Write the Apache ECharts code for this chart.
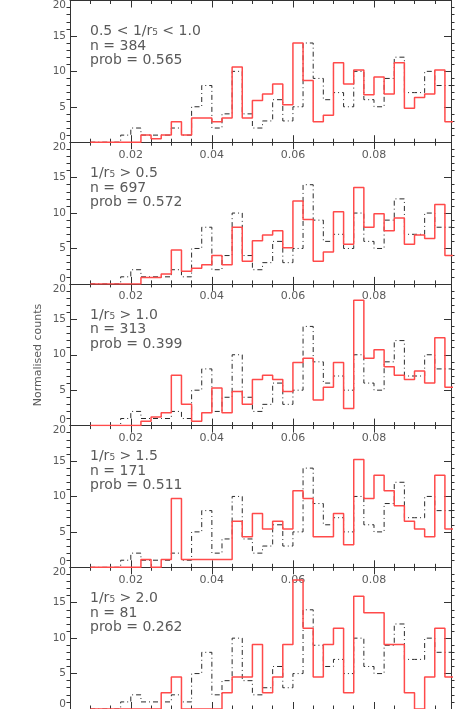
<!DOCTYPE html>
<html>
<head>
<meta charset="utf-8">
<script src="https://cdn.jsdelivr.net/npm/echarts@6/dist/echarts.min.js"></script>
<style>
html,body{margin:0;padding:0;background:#fff;}
#chart{width:472px;height:709px;}
</style>
</head>
<body>
<div id="chart"></div>
<script>
// Left edges of the histogram bins (bin width 0.0025)
const binStart = [0.0100, 0.0125, 0.0150, 0.0175, 0.0200, 0.0225, 0.0250, 0.0275, 0.0300, 0.0325,
                  0.0350, 0.0375, 0.0400, 0.0425, 0.0450, 0.0475, 0.0500, 0.0525, 0.0550, 0.0575,
                  0.0600, 0.0625, 0.0650, 0.0675, 0.0700, 0.0725, 0.0750, 0.0775, 0.0800, 0.0825,
                  0.0850, 0.0875, 0.0900, 0.0925, 0.0950, 0.0975];
const binEnd = 0.1;

// Comparison (black dash-dot) histogram, same in every panel
const refCounts = [0, 0, 0, 1, 2, 1, 1, 1, 2, 1,
                   5, 8, 2, 4, 10, 4, 2, 3, 6, 3,
                   5, 14, 9, 6, 7, 5, 10, 6, 5, 9,
                   12, 7, 7, 10, 8, 8];

// Red histograms, one per panel
const counts1 = [0, 0, 0, 0, 0, 1.0, 0.5, 1.0, 2.9, 1.0,
                 3.4, 3.4, 2.9, 3.4, 10.6, 3.4, 5.9, 6.8, 8.2, 5.3,
                 14.0, 8.7, 2.9, 3.8, 11.2, 8.2, 10.2, 6.7, 9.2, 6.8,
                 11.2, 4.8, 6.3, 6.8, 10.2, 2.9];
const counts2 = [0, 0, 0, 0, 0, 0.9, 0.9, 1.4, 4.8, 1.8,
                 2.2, 2.7, 4.0, 2.7, 8.0, 3.2, 6.1, 6.9, 7.5, 5.1,
                 11.7, 9.1, 3.2, 4.5, 10.2, 5.6, 13.6, 8.0, 9.9, 7.5,
                 9.3, 5.6, 6.9, 6.4, 11.2, 4.0];
const counts3 = [0, 0, 0, 0, 0, 0.6, 1.2, 1.8, 7.1, 3.0,
                 0.6, 1.8, 5.3, 1.8, 4.8, 3.0, 6.5, 7.1, 6.5, 4.8,
                 8.9, 9.5, 3.6, 5.4, 8.9, 2.4, 17.7, 9.5, 10.7, 8.3,
                 7.1, 6.5, 7.7, 6.0, 12.4, 5.4];
const counts4 = [0, 0, 0, 0, 0, 1.1, 0, 1.1, 9.7, 1.1,
                 1.1, 1.1, 1.1, 1.1, 6.5, 4.3, 7.6, 5.4, 6.5, 5.4,
                 10.8, 9.7, 4.3, 4.3, 7.6, 3.2, 15.2, 9.7, 13.0, 10.8,
                 8.7, 6.5, 5.4, 4.3, 13.0, 5.4];
const counts5 = [0, 0, 0, 0, 0, 0, 0, 2.3, 4.5, 0,
                 0, 0, 0, 2.3, 4.5, 4.5, 9.1, 2.3, 4.5, 9.1,
                 18.2, 11.4, 4.5, 9.1, 11.4, 2.3, 15.9, 13.6, 13.6, 9.1,
                 9.1, 2.3, 0, 4.5, 11.4, 4.5];

const panelLabels = ['0.5 < 1/r\u2085 < 1.0', '1/r\u2085 > 0.5', '1/r\u2085 > 1.0', '1/r\u2085 > 1.5', '1/r\u2085 > 2.0'];
const panelN = [384, 697, 313, 171, 81];
const panelProb = ['0.565', '0.572', '0.399', '0.511', '0.262'];

const xTickValues = [0.02, 0.04, 0.06, 0.08];
const yAxisName = 'Normalised counts';

const redSets = [counts1, counts2, counts3, counts4, counts5];

const FONT = '"DejaVu Sans", sans-serif';
const AX = '#333';
const TXT = '#5a5a5a';
const X_MIN = 0.005, X_MAX = 0.099;
const PLOT_LEFT = 70, PLOT_W = 381, PANEL_TOP0 = 0.5, PANEL_H = 141.7;
const MAJ = 7, MIN = 3.5;

function stepData(vals) {
  const d = binStart.map((x, i) => [x, vals[i]]);
  d.push([binEnd, vals[vals.length - 1]]);
  return d;
}

const grids = [], xAxes = [], yAxes = [], series = [], graphics = [];

for (let k = 0; k < 5; k++) {
  const top = PANEL_TOP0 + PANEL_H * k;
  grids.push({ left: PLOT_LEFT, top: top, width: PLOT_W, height: PANEL_H, outerBoundsMode: 'none', containLabel: false });

  const xb = () => ({ gridIndex: k, type: 'value', min: X_MIN, max: X_MAX, splitLine: { show: false } });
  // bottom, major ticks + labels
  xAxes.push(Object.assign(xb(), {
    position: 'bottom',
    axisLine: { show: true, onZero: false, lineStyle: { color: AX, width: 1 } },
    axisTick: { show: true, inside: true, length: MAJ, customValues: xTickValues, lineStyle: { color: AX, width: 1 } },
    axisLabel: { show: true, customValues: xTickValues, margin: 7, fontSize: 11, fontFamily: FONT, color: TXT,
                 formatter: v => v.toFixed(2) }
  }));
  // bottom, minor ticks
  xAxes.push(Object.assign(xb(), {
    position: 'bottom', interval: 0.005,
    axisLine: { show: false, onZero: false },
    axisTick: { show: true, inside: true, length: MIN, lineStyle: { color: AX, width: 1 } },
    axisLabel: { show: false }
  }));
  // top, major ticks
  xAxes.push(Object.assign(xb(), {
    position: 'top',
    axisLine: { show: true, onZero: false, lineStyle: { color: AX, width: 1 } },
    axisTick: { show: true, inside: true, length: MAJ, customValues: xTickValues, lineStyle: { color: AX, width: 1 } },
    axisLabel: { show: false }
  }));
  // top, minor ticks
  xAxes.push(Object.assign(xb(), {
    position: 'top', interval: 0.005,
    axisLine: { show: false, onZero: false },
    axisTick: { show: true, inside: true, length: MIN, lineStyle: { color: AX, width: 1 } },
    axisLabel: { show: false }
  }));

  const yb = () => ({ gridIndex: k, type: 'value', min: 0, max: 20,
                      splitLine: { show: false }, minorSplitLine: { show: false } });
  ['left', 'right'].forEach(pos => {
    // labelled axis with minor ticks (every 1)
    yAxes.push(Object.assign(yb(), {
      position: pos, interval: 5,
      axisLine: { show: true, onZero: false, lineStyle: { color: AX, width: 1 } },
      axisTick: { show: false },
      minorTick: { show: true, splitNumber: 5, length: MIN, lineStyle: { color: AX, width: 1 } },
      axisLabel: pos === 'left' ? {
        show: true, margin: 4, fontSize: 10.5, fontFamily: FONT, color: TXT,
        formatter: v => v === 0 ? '{lo|0}' : (v === 20 ? '{hi|20}' : String(v)),
        rich: {
          lo: { padding: [0, 0, 10, 0], fontSize: 10.5, fontFamily: FONT, color: TXT },
          hi: { padding: [10, 0, 0, 0], fontSize: 10.5, fontFamily: FONT, color: TXT }
        }
      } : { show: false }
    }));
    // major ticks every 5 (ends as ticks, middle as minor ticks of a 0-20 interval)
    yAxes.push(Object.assign(yb(), {
      position: pos, interval: 20,
      axisLine: { show: false, onZero: false },
      axisTick: { show: true, inside: true, length: MAJ, lineStyle: { color: AX, width: 1 } },
      minorTick: { show: true, splitNumber: 4, length: MAJ, lineStyle: { color: AX, width: 1 } },
      axisLabel: { show: false }
    }));
  });

  series.push({
    type: 'line', xAxisIndex: 4 * k, yAxisIndex: 4 * k,
    data: stepData(refCounts), step: 'end', showSymbol: false, symbol: 'none',
    lineStyle: { color: '#2a2a2a', width: 1, type: [5, 3, 1, 3] },
    silent: true, clip: true, z: 2
  });
  series.push({
    type: 'line', xAxisIndex: 4 * k, yAxisIndex: 4 * k,
    data: stepData(redSets[k]), step: 'end', showSymbol: false, symbol: 'none',
    lineStyle: { color: '#ff4a4a', width: 1.5 },
    silent: true, clip: true, z: 3
  });

  graphics.push({
    type: 'text', left: 90, top: top + 24,
    style: {
      text: panelLabels[k] + '\nn = ' + panelN[k] + '\nprob = ' + panelProb[k],
      font: '14px ' + FONT, fill: TXT, lineHeight: 14.5
    }
  });
}

graphics.push({
  type: 'text', x: 38, y: 355, rotation: Math.PI / 2,
  style: { text: yAxisName, font: '11px ' + FONT, fill: TXT, align: 'center', verticalAlign: 'middle' }
});

const chart = echarts.init(document.getElementById('chart'), null, { renderer: 'canvas' });
chart.setOption({
  animation: false,
  backgroundColor: '#fff',
  grid: grids,
  xAxis: xAxes,
  yAxis: yAxes,
  series: series,
  graphic: graphics
});
</script>
</body>
</html>
